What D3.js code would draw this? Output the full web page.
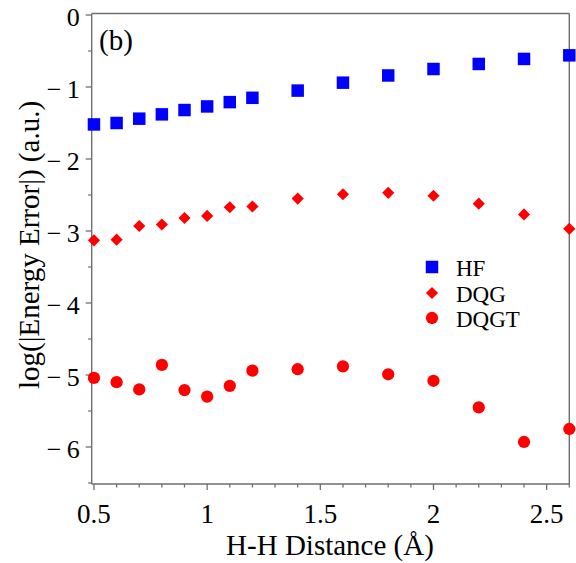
<!DOCTYPE html>
<html>
<head>
<meta charset="utf-8">
<script src="https://cdn.jsdelivr.net/npm/d3@7"></script>
<style>
    body { margin: 0; background: #fff; }
</style>
</head>
<body>
<svg id="chart" width="576" height="563"></svg>
<script>
"use strict";

// H-H distances (Angstrom)
const distances = [0.5, 0.6, 0.7, 0.8, 0.9, 1.0, 1.1, 1.2, 1.4, 1.6, 1.8, 2.0, 2.2, 2.4, 2.6]
// log(|energy error|) for each method
const hfValues = [-1.52, -1.50, -1.44, -1.38, -1.32, -1.27, -1.21, -1.15, -1.05, -0.94, -0.84, -0.75, -0.68, -0.61, -0.56]
const dqgValues = [-3.13, -3.12, -2.93, -2.91, -2.82, -2.79, -2.67, -2.66, -2.55, -2.49, -2.47, -2.51, -2.62, -2.77, -2.97]
const dqgtValues = [-5.04, -5.10, -5.20, -4.86, -5.21, -5.30, -5.15, -4.94, -4.92, -4.88, -4.99, -5.08, -5.45, -5.93, -5.75]

const xTicks = [0.5, 1, 1.5, 2, 2.5]
const xTickLabels = ["0.5", "1", "1.5", "2", "2.5"]
const yTicks = [0, -1, -2, -3, -4, -5, -6]
const yTickLabels = ["0", "\u2212\u20091", "\u2212\u20092", "\u2212\u20093", "\u2212\u20094", "\u2212\u20095", "\u2212\u20096"]
const seriesNames = ["HF", "DQG", "DQGT"]

const axisColor = "#6e6e6e"
const fontName = "Liberation Serif"

let svg = d3.select("#chart")

// scales
let x = d3.scaleLinear().domain([0.49, 2.6]).range([91.7, 569.3])
let y = d3.scaleLinear().domain([0, -6]).range([15, 447])
let yTop = 13.5
let yBottom = 484

// frame: top and right border
svg.append("line")
    .attr("x1", x(0.49)).attr("x2", x(2.6))
    .attr("y1", yTop).attr("y2", yTop)
    .attr("stroke", axisColor).attr("stroke-width", 1.4)
svg.append("line")
    .attr("x1", x(2.6)).attr("x2", x(2.6))
    .attr("y1", yTop).attr("y2", yBottom)
    .attr("stroke", axisColor).attr("stroke-width", 1.4)

// x axis (major + minor ticks)
let xAxisG = svg.append("g").attr("transform", "translate(0," + yBottom + ")")
xAxisG.append("line")
    .attr("x1", x(0.49)).attr("x2", x(2.6))
    .attr("stroke", axisColor).attr("stroke-width", 1.4)
let xMinor = d3.range(5, 27).map(function (d) { return d / 10 })
xAxisG.selectAll(".xminor")
    .data(xMinor)
    .enter().append("line")
    .attr("x1", function (d) { return x(d) })
    .attr("x2", function (d) { return x(d) })
    .attr("y1", 0)
    .attr("y2", function (d) { return (Math.round(d * 10) % 5 === 0) ? 6 : 3.5 })
    .attr("stroke", axisColor).attr("stroke-width", 1.3)
xAxisG.selectAll(".xlabel")
    .data(xTicks)
    .enter().append("text")
    .attr("x", function (d) { return x(d) })
    .attr("y", 39)
    .attr("text-anchor", "middle")
    .attr("font-family", fontName)
    .attr("font-size", 27)
    .text(function (d, i) { return xTickLabels[i] })

// y axis
let yAxisG = svg.append("g").attr("transform", "translate(" + x(0.49) + ",0)")
yAxisG.append("line")
    .attr("y1", yTop).attr("y2", yBottom)
    .attr("stroke", axisColor).attr("stroke-width", 1.4)
let yMinor = d3.range(0, 14).map(function (d) { return -d / 2 })
yAxisG.selectAll(".yminor")
    .data(yMinor)
    .enter().append("line")
    .attr("y1", function (d) { return y(d) })
    .attr("y2", function (d) { return y(d) })
    .attr("x1", function (d) { return (d % 1 === 0) ? -6 : -3.5 })
    .attr("x2", 0)
    .attr("stroke", axisColor).attr("stroke-width", 1.3)
yAxisG.selectAll(".ylabel")
    .data(yTicks)
    .enter().append("text")
    .attr("x", -12)
    .attr("y", function (d) { return y(d) + 11 })
    .attr("text-anchor", "end")
    .attr("font-family", fontName)
    .attr("font-size", 26)
    .text(function (d, i) { return yTickLabels[i] })

// axis titles
svg.append("text")
    .attr("x", 330)
    .attr("y", 555)
    .attr("text-anchor", "middle")
    .attr("font-family", fontName)
    .attr("font-size", 29)
    .text("H-H Distance (\u00C5)")
svg.append("text")
    .attr("transform", "translate(39,245) rotate(-90)")
    .attr("text-anchor", "middle")
    .attr("font-family", fontName)
    .attr("font-size", 29)
    .text("log(|Energy Error|) (a.u.)")

// panel label
svg.append("text")
    .attr("x", 99)
    .attr("y", 50)
    .attr("font-family", fontName)
    .attr("font-size", 29)
    .text("(b)")

// symbols
let squareSym = d3.symbol().type(d3.symbolSquare).size(156)
let diamondSym = d3.symbol().type(d3.symbolSquare).size(74)
let circleSym = d3.symbol().type(d3.symbolCircle).size(118)

function drawSeries(values, sym, color, rotate) {
    svg.append("g").selectAll("path")
        .data(values)
        .enter().append("path")
        .attr("d", sym)
        .attr("fill", color)
        .attr("transform", function (d, i) {
            return "translate(" + x(distances[i]) + "," + y(d) + ")" + (rotate ? " rotate(45)" : "")
        })
}
drawSeries(hfValues, squareSym, "#0000ff", false)
drawSeries(dqgValues, diamondSym, "#ff0000", true)
drawSeries(dqgtValues, circleSym, "#ff0000", false)

// legend
let legendSyms = [squareSym, diamondSym, circleSym]
let legendColors = ["#0000ff", "#ff0000", "#ff0000"]
let legendY = [267, 293, 318]
let legend = svg.append("g")
seriesNames.forEach(function (name, i) {
    legend.append("path")
        .attr("d", legendSyms[i])
        .attr("fill", legendColors[i])
        .attr("transform", "translate(432," + legendY[i] + ")" + (i === 1 ? " rotate(45)" : ""))
    legend.append("text")
        .attr("x", 456)
        .attr("y", legendY[i] + 8.5)
        .attr("font-family", fontName)
        .attr("font-size", 23)
        .text(name)
})
</script>
</body>
</html>
